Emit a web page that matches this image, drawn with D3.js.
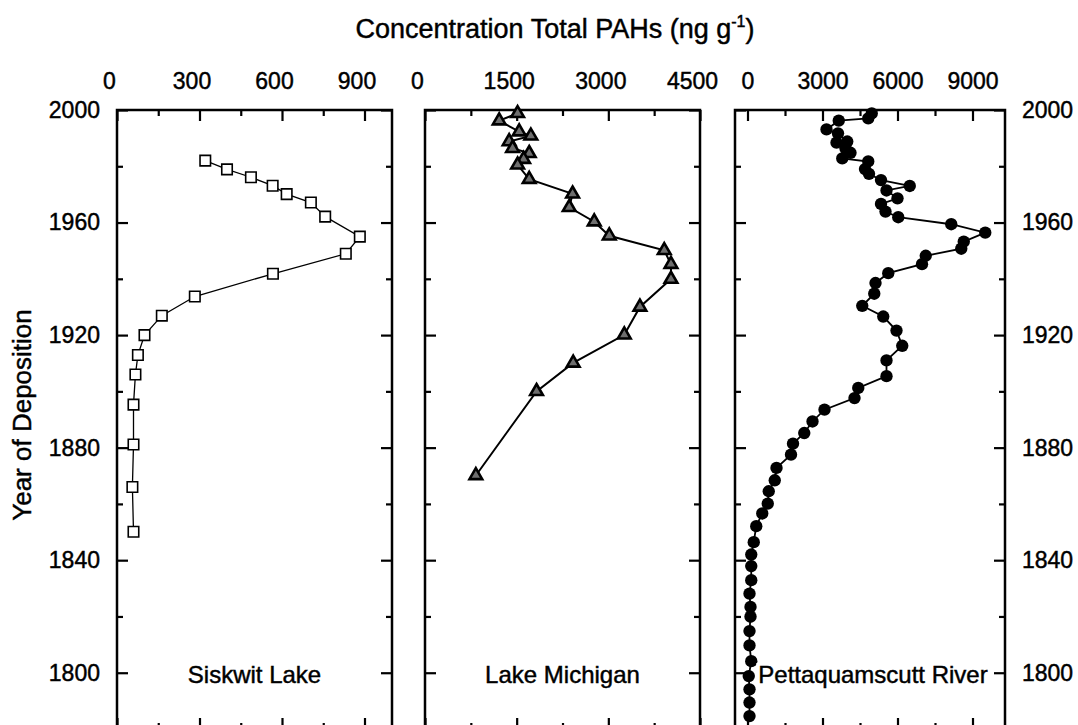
<!DOCTYPE html>
<html>
<head>
<meta charset="utf-8">
<script src="https://cdn.jsdelivr.net/npm/d3@7"></script>
<style>
  body { margin: 0; background: #fff; }
  svg { display: block; font-family: "Liberation Sans", Arial, sans-serif; }
  svg text { stroke: #000; stroke-width: 0.45px; }
</style>
</head>
<body>
<div id="chart"></div>
<script>
// data (year of deposition vs total PAH concentration)
var siskwitYear = [1982.0, 1978.9, 1976.1, 1973.1, 1970.1, 1967.1, 1962.1, 1955.0, 1948.9, 1941.8,
  1933.7, 1926.9, 1920.0, 1912.9, 1906.0, 1895.3, 1881.1, 1866.0, 1850.1];
var siskwitConc = [321, 400, 487, 566, 617, 705, 757, 883, 832, 567,
  283, 163, 100, 76, 67, 60, 60, 56, 60];

var michiganYear = [1998.8, 1996.2, 1992.3, 1990.8, 1988.8, 1986.4, 1984.6, 1982.5, 1980.5, 1975.4,
  1970.2, 1965.4, 1960.3, 1955.3, 1950.1, 1945.2, 1939.9, 1930.0, 1920.1, 1910.1, 1900.0, 1870.1];
var michiganConc = [1515, 1214, 1541, 1732, 1377, 1433, 1705, 1613, 1515, 1705,
  2415, 2360, 2769, 3015, 3915, 4025, 4025, 3517, 3261, 2425, 1825, 832];

var pettaYear = [1998.8, 1997.0, 1996.2, 1993.1, 1991.7, 1988.8, 1988.4, 1986.4, 1984.8, 1982.8,
  1981.7, 1979.0, 1977.3, 1975.1, 1973.0, 1971.4, 1968.6, 1966.6, 1963.9, 1961.9,
  1959.4, 1956.4, 1953.2, 1950.7, 1948.2, 1945.2, 1942.0, 1938.5, 1934.7, 1930.4,
  1926.6, 1921.6, 1916.2, 1911.0, 1905.4, 1901.2, 1897.6, 1893.5, 1889.3, 1885.2,
  1881.4, 1877.5, 1872.8, 1868.4, 1864.5, 1860.1, 1856.6, 1852.1, 1846.4, 1842.0,
  1837.9, 1832.9, 1828.1, 1823.4, 1819.9, 1814.8, 1809.7, 1804.1, 1798.8, 1794.1,
  1789.4, 1784.6];
var pettaConc = [4970, 4830, 3650, 3160, 3620, 3990, 3560, 3920, 4120, 3790,
  4830, 4700, 4860, 5340, 6490, 5560, 6000, 5340, 5520, 6030,
  8150, 9510, 8650, 8550, 7130, 6980, 5630, 5120, 5070, 4590,
  5430, 5960, 6190, 5560, 5560, 4430, 4280, 3080, 2600, 2270,
  1820, 1740, 1160, 1090, 850, 810, 590, 350, 250, 150,
  150, 150, 80, 120, 120, 80, 80, 150, 50, 80,
  80, 80];

var panelNames = ["Siskwit Lake", "Lake Michigan", "Pettaquamscutt River"];
var xMajor = [[0, 300, 600, 900], [0, 1500, 3000, 4500], [0, 3000, 6000, 9000]];
var xMinor = [[150, 450, 750], [750, 2250, 3750], [1500, 4500, 7500]];
var yMajor = [1800, 1840, 1880, 1920, 1960, 2000];
var yMinor = [1820, 1860, 1900, 1940, 1980];

var width = 1078, height = 725;
var plotTop = 110, plotBottom = 729;

var svg = d3.select("#chart")
  .append("svg")
  .attr("width", width)
  .attr("height", height);

var y = d3.scaleLinear().domain([1780, 2000]).range([plotBottom, plotTop]);

var panels = [
  { years: siskwitYear, conc: siskwitConc, domain: [0, 1000], left: 117, right: 392, labelShift: -8,
    symbol: d3.symbolSquare, size: 110, fill: "#fff", sw: 1.6, lineW: 1.3 },
  { years: michiganYear, conc: michiganConc, domain: [0, 4500], left: 425, right: 700, labelShift: -8,
    symbol: d3.symbolTriangle, size: 70, fill: "#6e6e6e", sw: 2.6, lineW: 2 },
  { years: pettaYear, conc: pettaConc, domain: [-500, 10300], left: 735, right: 1005, labelShift: 0,
    symbol: d3.symbolCircle, size: 120, fill: "#000", sw: 0, lineW: 1.8 }
];

function noDomain(g) { g.select(".domain").remove(); }

panels.forEach(function(p, i) {
  var x = d3.scaleLinear().domain(p.domain).range([p.left, p.right]);
  var g = svg.append("g");

  // frame
  g.append("rect")
    .attr("x", p.left).attr("y", plotTop)
    .attr("width", p.right - p.left).attr("height", plotBottom - plotTop)
    .attr("fill", "none").attr("stroke", "#000").attr("stroke-width", 2.5);

  // inward ticks, top and bottom
  [[d3.axisTop, plotTop], [d3.axisBottom, plotBottom]].forEach(function(a) {
    g.append("g").attr("transform", "translate(0," + a[1] + ")")
      .call(a[0](x).tickValues(xMajor[i]).tickSize(-11).tickFormat(""))
      .call(noDomain);
    g.append("g").attr("transform", "translate(0," + a[1] + ")")
      .call(a[0](x).tickValues(xMinor[i]).tickSize(-6).tickFormat(""))
      .call(noDomain);
  });
  // inward ticks, left and right
  [[d3.axisLeft, p.left], [d3.axisRight, p.right]].forEach(function(a) {
    g.append("g").attr("transform", "translate(" + a[1] + ",0)")
      .call(a[0](y).tickValues(yMajor).tickSize(-11).tickFormat(""))
      .call(noDomain);
    g.append("g").attr("transform", "translate(" + a[1] + ",0)")
      .call(a[0](y).tickValues(yMinor).tickSize(-6).tickFormat(""))
      .call(noDomain);
  });
  g.selectAll(".tick line").attr("stroke-width", 2.2);

  // top tick labels
  g.append("g").attr("transform", "translate(" + p.labelShift + "," + plotTop + ")")
    .call(d3.axisTop(x).tickValues(xMajor[i]).tickSize(0).tickPadding(21).tickFormat(d3.format("d")))
    .call(noDomain)
    .selectAll("text").attr("font-size", 23).attr("fill", "#000")
    .attr("font-family", "Liberation Sans, Arial, sans-serif");

  var data = p.years.map(function(d, k) { return { year: d, value: p.conc[k] }; });

  g.append("path")
    .datum(data)
    .attr("d", d3.line()
      .x(function(d) { return x(d.value); })
      .y(function(d) { return y(d.year); }))
    .attr("fill", "none")
    .attr("stroke", "#000")
    .attr("stroke-width", p.lineW);

  g.selectAll(".pt")
    .data(data)
    .enter()
    .append("path")
    .attr("class", "pt")
    .attr("transform", function(d) { return "translate(" + x(d.value) + "," + y(d.year) + ")"; })
    .attr("d", d3.symbol().type(p.symbol).size(p.size))
    .attr("fill", p.fill)
    .attr("stroke", "#000")
    .attr("stroke-width", p.sw);

  // panel label on a white box
  var lbl = g.append("text")
    .attr("x", (p.left + p.right) / 2 + (i == 2 ? 3 : 0))
    .attr("y", 683)
    .attr("text-anchor", "middle")
    .attr("font-size", 24)
    .text(panelNames[i]);
  var bb = lbl.node().getBBox();
  g.insert("rect", function() { return lbl.node(); })
    .attr("x", bb.x - 2).attr("y", bb.y + 2)
    .attr("width", bb.width + 4).attr("height", bb.height - 4)
    .attr("fill", "#fff");
});

// year labels, left of first panel and right of last panel
svg.append("g").attr("transform", "translate(" + panels[0].left + ",0)")
  .call(d3.axisLeft(y).tickValues(yMajor).tickSize(0).tickPadding(17).tickFormat(d3.format("d")))
  .call(noDomain)
  .selectAll("text").attr("font-size", 23).attr("fill", "#000")
  .attr("font-family", "Liberation Sans, Arial, sans-serif");

svg.append("g").attr("transform", "translate(" + panels[2].right + ",0)")
  .call(d3.axisRight(y).tickValues(yMajor).tickSize(0).tickPadding(17).tickFormat(d3.format("d")))
  .call(noDomain)
  .selectAll("text").attr("font-size", 23).attr("fill", "#000")
  .attr("font-family", "Liberation Sans, Arial, sans-serif");

// axis titles
var title = svg.append("text")
  .attr("x", 555)
  .attr("y", 38)
  .attr("text-anchor", "middle")
  .attr("font-size", 27);
title.append("tspan").text("Concentration Total PAHs (ng g");
title.append("tspan").attr("font-size", 16).attr("dy", -11).text("-1");
title.append("tspan").attr("dy", 11).text(")");

svg.append("text")
  .attr("transform", "translate(22,415) rotate(-90)")
  .attr("text-anchor", "middle")
  .attr("dominant-baseline", "central")
  .attr("font-size", 26)
  .text("Year of Deposition");
</script>
</body>
</html>
